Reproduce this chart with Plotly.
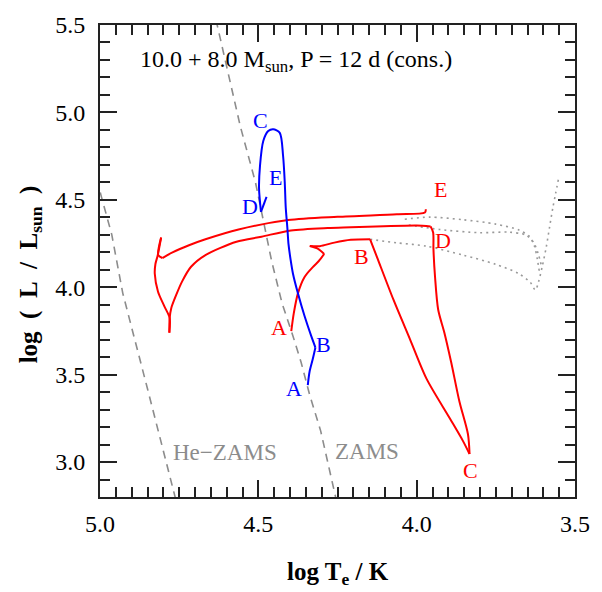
import plotly.graph_objects as go

# ---------------- data (log Teff, log L) ----------------
red_logT = [4.396, 4.388, 4.375, 4.354, 4.328, 4.309, 4.292, 4.3125, 4.3375, 4.306,
            4.260, 4.208, 4.147, 4.125, 4.073, 4.021, 3.969, 3.896, 3.854, 3.833,
            3.838, 3.865, 3.891, 3.9125, 3.932, 3.942, 3.947, 3.948, 3.956, 4.0,
            4.104, 4.208, 4.281, 4.397, 4.490, 4.569, 4.667, 4.7125, 4.741, 4.760,
            4.775, 4.780, 4.781, 4.780, 4.797, 4.817, 4.827, 4.825, 4.818, 4.807,
            4.816, 4.803, 4.771, 4.719, 4.667, 4.5625, 4.406, 4.25, 4.0625, 3.974, 3.971]
red_logL = [3.749, 3.852, 3.965, 4.059, 4.115, 4.150, 4.190, 4.221, 4.236, 4.235,
            4.255, 4.271, 4.274, 4.171, 3.927, 3.702, 3.477, 3.252, 3.121, 3.046,
            3.159, 3.346, 3.571, 3.740, 3.871, 4.060, 4.218, 4.313, 4.348, 4.353,
            4.349, 4.343, 4.339, 4.325, 4.289, 4.260, 4.184, 4.117, 4.032, 3.953,
            3.880, 3.824, 3.740, 3.824, 3.892, 3.976, 4.077, 4.133, 4.180, 4.284,
            4.184, 4.167, 4.199, 4.240, 4.274, 4.330, 4.384, 4.403, 4.417, 4.427, 4.446]
# indices where the red track turns sharply (segment boundaries)
red_breaks = [0, 6, 8, 12, 19, 28, 42, 49, 51, 60]

blue_logT = [4.3438, 4.3384, 4.3281, 4.3197, 4.3334, 4.3541, 4.375, 4.3906, 4.3984, 4.4047,
             4.4084, 4.4134, 4.4166, 4.4219, 4.4322, 4.4531, 4.4688, 4.4844, 4.4947, 4.4978,
             4.4916, 4.4741]
blue_logL = [3.440, 3.515, 3.589, 3.655, 3.723, 3.835, 3.965, 4.077, 4.161, 4.246,
             4.341, 4.454, 4.602, 4.752, 4.883, 4.904, 4.893, 4.836, 4.696, 4.566,
             4.431, 4.517]
blue_breaks = [0, 3, 20, 21]

dot1_logT = [4.147, 4.0625, 3.969, 3.854, 3.75, 3.677, 3.641, 3.625, 3.615, 3.603,
             3.591, 3.580, 3.570, 3.561, 3.552]
dot1_logL = [4.274, 4.254, 4.235, 4.184, 4.131, 4.077, 4.027, 3.984, 4.032, 4.122,
             4.227, 4.347, 4.454, 4.538, 4.620]
dot2_logT = [4.0375, 3.959, 3.854, 3.75, 3.677, 3.644, 3.628, 3.619, 3.6125]
dot2_logL = [4.389, 4.401, 4.386, 4.361, 4.327, 4.291, 4.235, 4.161, 4.088]
dot3_logT = [4.025, 3.927, 3.802, 3.709, 3.656, 3.631, 3.616, 3.606]
dot3_logL = [4.356, 4.330, 4.312, 4.315, 4.299, 4.257, 4.190, 4.122]

zams_logT = [4.634, 4.630, 4.557, 4.509, 4.458, 4.425, 4.391, 4.365, 4.338, 4.303, 4.256, 4.25]
zams_logL = [5.53, 5.50, 4.921, 4.600, 4.150, 3.908, 3.723, 3.571, 3.385, 3.177, 2.80, 2.76]
hezams_logT = [5.01, 4.997, 4.963, 4.928, 4.85, 4.766, 4.760]
hezams_logL = [4.62, 4.527, 4.302, 3.965, 3.419, 2.823, 2.78]

red_labels = ["A", "B", "C", "D", "E"]
red_label_T = [4.434, 4.175, 3.831, 3.916, 3.924]
red_label_L = [3.757, 4.164, 2.943, 4.257, 4.548]
blue_labels = ["A", "B", "C", "D", "E"]
blue_label_T = [4.3875, 4.294, 4.493, 4.527, 4.445]
blue_label_L = [3.407, 3.661, 4.940, 4.453, 4.617]

x_range = [5.0, 3.5]
y_range = [2.8, 5.5]

SERIF = "Liberation Serif, Times New Roman, serif"

fig = go.Figure()
fig.add_trace(go.Scatter(x=hezams_logT, y=hezams_logL, mode="lines",
                         line=dict(color="#8c8c8c", width=1.6, dash="8px,6px"), hoverinfo="skip"))
fig.add_trace(go.Scatter(x=zams_logT, y=zams_logL, mode="lines",
                         line=dict(color="#8c8c8c", width=1.6, dash="8px,6px"), hoverinfo="skip"))
for xs, ys in [(dot1_logT, dot1_logL), (dot2_logT, dot2_logL), (dot3_logT, dot3_logL)]:
    fig.add_trace(go.Scatter(x=xs, y=ys, mode="lines",
                             line=dict(color="#9a9a9a", width=1.6, dash="2px,4px", shape="spline",
                                       smoothing=0.8), hoverinfo="skip"))


def add_track(xs, ys, breaks, color):
    for a, b in zip(breaks[:-1], breaks[1:]):
        fig.add_trace(go.Scatter(x=xs[a:b + 1], y=ys[a:b + 1], mode="lines",
                                 line=dict(color=color, width=2, shape="spline", smoothing=0.8),
                                 hoverinfo="skip"))


add_track(red_logT, red_logL, red_breaks, "#ff0000")
add_track(blue_logT, blue_logL, blue_breaks, "#0000ff")

ann = []
for t, x, y in zip(red_labels, red_label_T, red_label_L):
    ann.append(dict(x=x, y=y, text=t, showarrow=False, yshift=2,
                    font=dict(color="#ff0000", size=22, family=SERIF)))
for t, x, y in zip(blue_labels, blue_label_T, blue_label_L):
    ann.append(dict(x=x, y=y, text=t, showarrow=False, yshift=2,
                    font=dict(color="#0000ff", size=22, family=SERIF)))
ann.append(dict(x=4.606, y=3.042, text="He−ZAMS", showarrow=False, yshift=2,
                font=dict(color="#8c8c8c", size=23, family=SERIF)))
ann.append(dict(x=4.156, y=3.048, text="ZAMS", showarrow=False, yshift=2,
                font=dict(color="#8c8c8c", size=23, family=SERIF)))
ann.append(dict(x=4.881, y=5.281, text="10.0 + 8.0 M<sub>sun</sub>, P = 12 d (cons.)", showarrow=False,
                xanchor="left", yshift=2, font=dict(color="#000000", size=24, family=SERIF)))
ann.append(dict(xref="paper", yref="paper", x=0.5, y=-0.1625, xanchor="center", yanchor="middle",
                text="<b>log T<sub>e</sub> / K</b>",
                showarrow=False, font=dict(color="#000000", size=25, family=SERIF)))
ann.append(dict(xref="paper", yref="paper", x=-0.146, y=0.471, xanchor="center", yanchor="middle",
                text="<b>log\u2002(\u2002L\u2002/\u2002L<sub>sun</sub>\u2002)</b>",
                showarrow=False, textangle=-90, font=dict(color="#000000", size=25, family=SERIF)))

axis_common = dict(showgrid=False, zeroline=False, showline=True, linecolor="#222222", linewidth=1.8,
                   ticks="inside", ticklen=17, tickwidth=1.6, tickcolor="#222222", mirror="allticks",
                   tickfont=dict(family=SERIF, size=24, color="#000000"),
                   minor=dict(ticks="inside", ticklen=10, tickwidth=1.6, tickcolor="#222222", showgrid=False))

fig.update_layout(
    width=602, height=592, margin=dict(l=100, r=22, t=17, b=95),
    paper_bgcolor="white", plot_bgcolor="white", showlegend=False,
    xaxis=dict(range=x_range, dtick=0.5, tick0=3.5, tickformat=".1f", ticklabelstandoff=4, **axis_common),
    yaxis=dict(range=y_range, dtick=0.5, tick0=3.0, tickformat=".1f", ticklabelstandoff=8, **axis_common),
    annotations=ann,
)
fig.update_xaxes(minor_dtick=0.05)
fig.update_yaxes(minor_dtick=0.1)

fig.write_html("out.html")
